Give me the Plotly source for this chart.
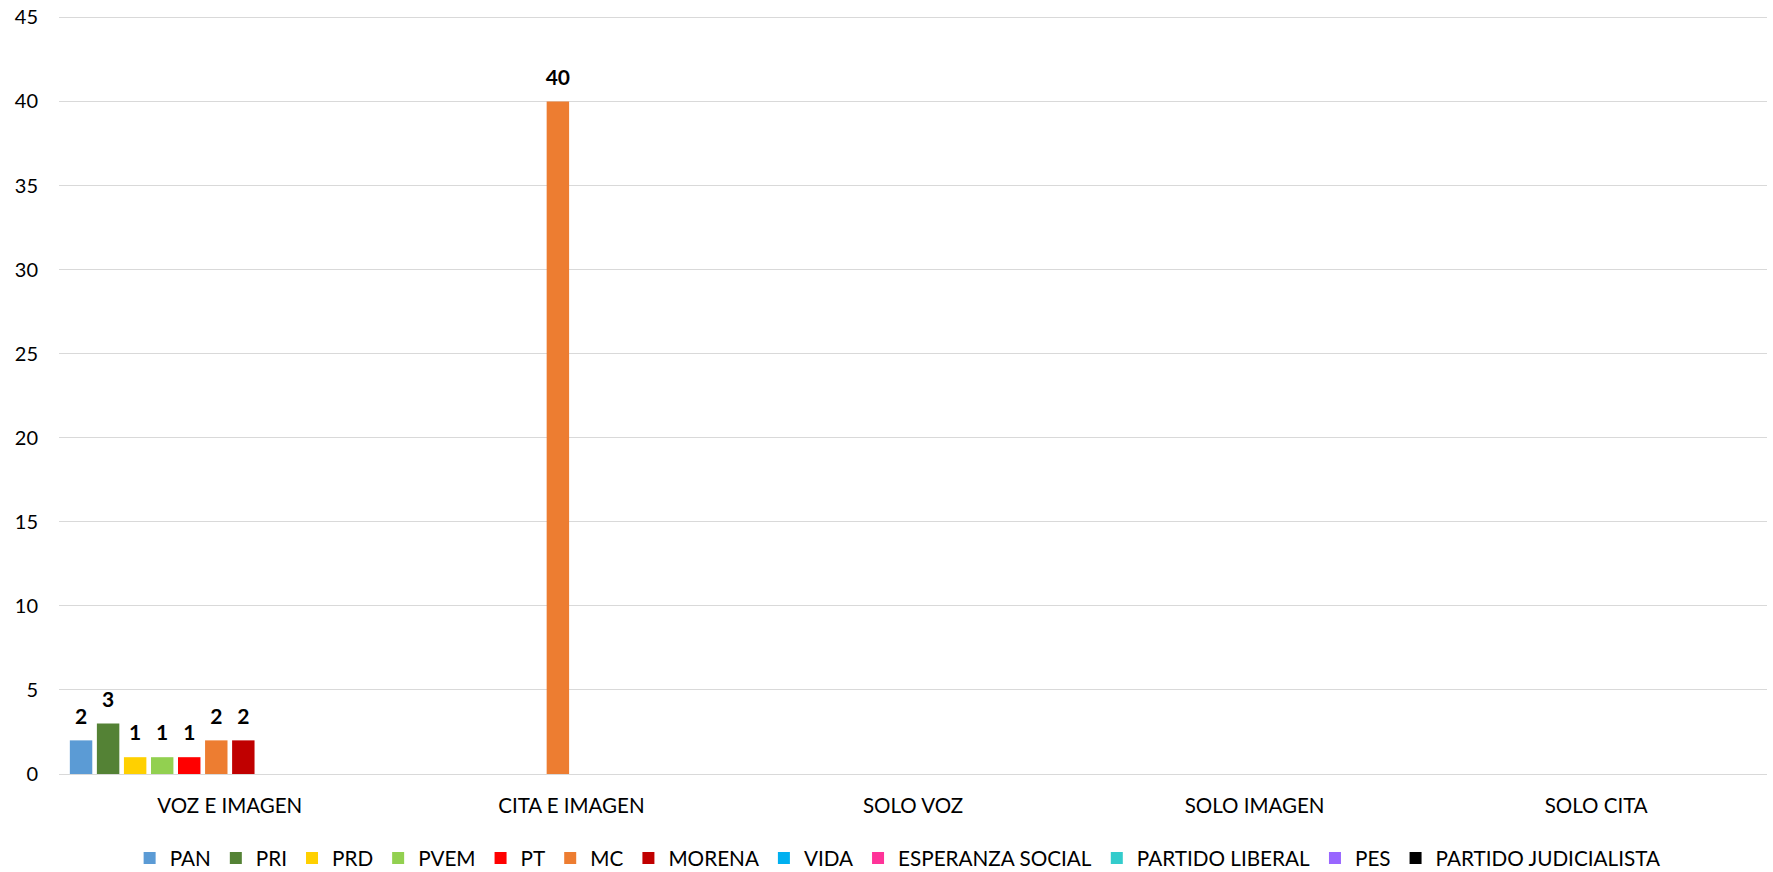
import plotly.graph_objects as go

categories = ["VOZ E IMAGEN", "CITA E IMAGEN", "SOLO VOZ", "SOLO IMAGEN", "SOLO CITA"]
parties = ["PAN", "PRI", "PRD", "PVEM", "PT", "MC", "MORENA", "VIDA",
           "ESPERANZA SOCIAL", "PARTIDO LIBERAL", "PES", "PARTIDO JUDICIALISTA"]
values = {
    "PAN": [2, 0, 0, 0, 0],
    "PRI": [3, 0, 0, 0, 0],
    "PRD": [1, 0, 0, 0, 0],
    "PVEM": [1, 0, 0, 0, 0],
    "PT": [1, 0, 0, 0, 0],
    "MC": [2, 40, 0, 0, 0],
    "MORENA": [2, 0, 0, 0, 0],
    "VIDA": [0, 0, 0, 0, 0],
    "ESPERANZA SOCIAL": [0, 0, 0, 0, 0],
    "PARTIDO LIBERAL": [0, 0, 0, 0, 0],
    "PES": [0, 0, 0, 0, 0],
    "PARTIDO JUDICIALISTA": [0, 0, 0, 0, 0],
}
colors = ["#5B9BD5", "#548235", "#FFD000", "#92D050", "#FF0000", "#ED7D31",
          "#C00000", "#00B0F0", "#FF3399", "#33CCCC", "#9966FF", "#000000"]
y_ticks = [0, 5, 10, 15, 20, 25, 30, 35, 40, 45]

FONT = "Lato, Carlito, Calibri, sans-serif"


def label(v):
    if not v:
        return ""
    return f"<span style='font-size:21px'><b>{v}</b></span><br> "


fig = go.Figure()
for p, c in zip(parties, colors):
    vals = values[p]
    fig.add_trace(go.Bar(
        name=p, x=categories, y=vals,
        marker=dict(color=c, line=dict(width=0)),
        text=[label(v) for v in vals],
        textposition="outside",
        constraintext="none",
        textfont=dict(family=FONT, size=9, color="black"),
        cliponaxis=False,
    ))

fig.update_layout(
    barmode="group",
    bargap=0.05,
    bargroupgap=0.17,
    width=1773, height=872,
    margin=dict(l=59, r=6, t=14, b=98),
    paper_bgcolor="white", plot_bgcolor="white",
    font=dict(family=FONT, size=20, color="black"),
    xaxis=dict(showgrid=False, showline=True, linecolor="#d9d9d9", linewidth=1,
               ticks="", tickfont=dict(size=20.5), ticklabelstandoff=13, automargin=False),
    yaxis=dict(range=[0, 45.2], tickvals=y_ticks, showgrid=True, gridcolor="#d9d9d9",
               gridwidth=1, zeroline=False, showline=False, ticks="",
               tickfont=dict(size=20), ticklabelstandoff=20, automargin=False),
    legend=dict(orientation="h", x=0.491, xanchor="center", xref="paper",
                y=0.016, yanchor="middle", yref="container",
                font=dict(size=20.7), itemwidth=30, traceorder="normal"),
)

fig.write_html("out.html", config={"displayModeBar": False},
               post_script="document.body.style.margin='0px';")
